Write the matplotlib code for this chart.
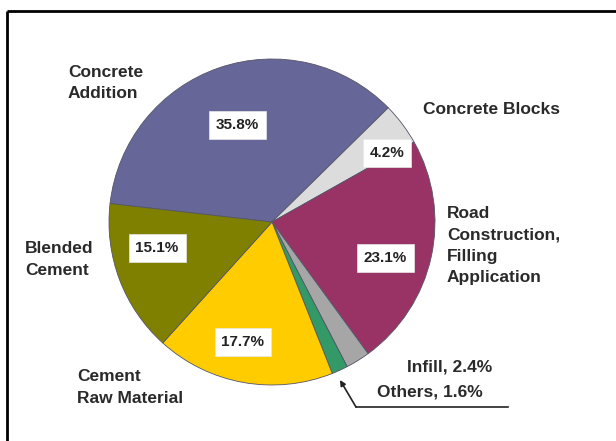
import matplotlib
matplotlib.use("Agg")
import matplotlib.pyplot as plt

plt.rcParams['font.family'] = ['Liberation Sans', 'DejaVu Sans']

# share of each use, clockwise from the left
uses = ['Concrete Addition', 'Concrete Blocks', 'Road Construction, Filling Application',
        'Infill', 'Others', 'Cement Raw Material', 'Blended Cement']
shares = [35.8, 4.2, 23.1, 2.4, 1.6, 17.7, 15.1]
colors = ['#666699', '#dcdcdc', '#993366', '#a6a6a6', '#339966', '#ffcc00', '#808000']

W, H = 616, 441
fig = plt.figure(figsize=(W / 100, H / 100), dpi=100)
ax = fig.add_axes([0, 0, 1, 1])

def Y(y):
    # pixel rows counted from the top
    return H - y

cx, cy, r = 272, Y(222), 163
ax.pie(shares, colors=colors, startangle=173.5, counterclock=False,
       center=(cx, cy), radius=r, frame=True,
       wedgeprops=dict(edgecolor='#555566', linewidth=0.6))
ax.set_xlim(0, W)
ax.set_ylim(0, H)
ax.set_aspect('equal')
ax.axis('off')

# percentage boxes inside the big wedges
pct_xy = {0: (237, 125), 1: (387, 153), 2: (385, 258), 5: (243, 342), 6: (157, 248)}
for i, (x, y) in pct_xy.items():
    ax.text(x, Y(y), '%.1f%%' % shares[i], ha='center', va='center',
            fontsize=11, fontweight='bold', color='#222222',
            bbox=dict(boxstyle='square,pad=0.45', fc='white', ec='#e8e8e8', lw=0.5))

lbl = dict(fontsize=12.5, fontweight='bold', color='#2a2a2a', ha='left',
           va='center', linespacing=1.55)
ax.text(68, Y(83), 'Concrete\nAddition', **lbl)
ax.text(423, Y(109), 'Concrete Blocks', **lbl)
ax.text(447, Y(245.5), 'Road\nConstruction,\nFilling\nApplication', **lbl)
ax.text(25, Y(259.5), 'Blended\nCement', **lbl)
ax.text(77, Y(387.5), 'Cement\nRaw Material', **lbl)
ax.text(407, Y(367), 'Infill, %.1f%%' % shares[3], **lbl)
ax.text(377, Y(392), 'Others, %.1f%%' % shares[4], **lbl)

# leader to the thin green wedge
ax.plot([508, 356], [Y(407), Y(407)], color='#222222', lw=1.2)
ax.annotate('', xy=(340, Y(380)), xytext=(356, Y(407)),
            arrowprops=dict(arrowstyle='-|>', color='#222222', lw=1.2,
                            mutation_scale=8, shrinkA=0, shrinkB=0))

# frame lines along top and left
ax.plot([7, W], [Y(11), Y(11)], color='black', lw=2, solid_capstyle='butt')
ax.plot([7, 7], [Y(11), 0], color='black', lw=2, solid_capstyle='butt')

fig.savefig('out.png', dpi=100)
